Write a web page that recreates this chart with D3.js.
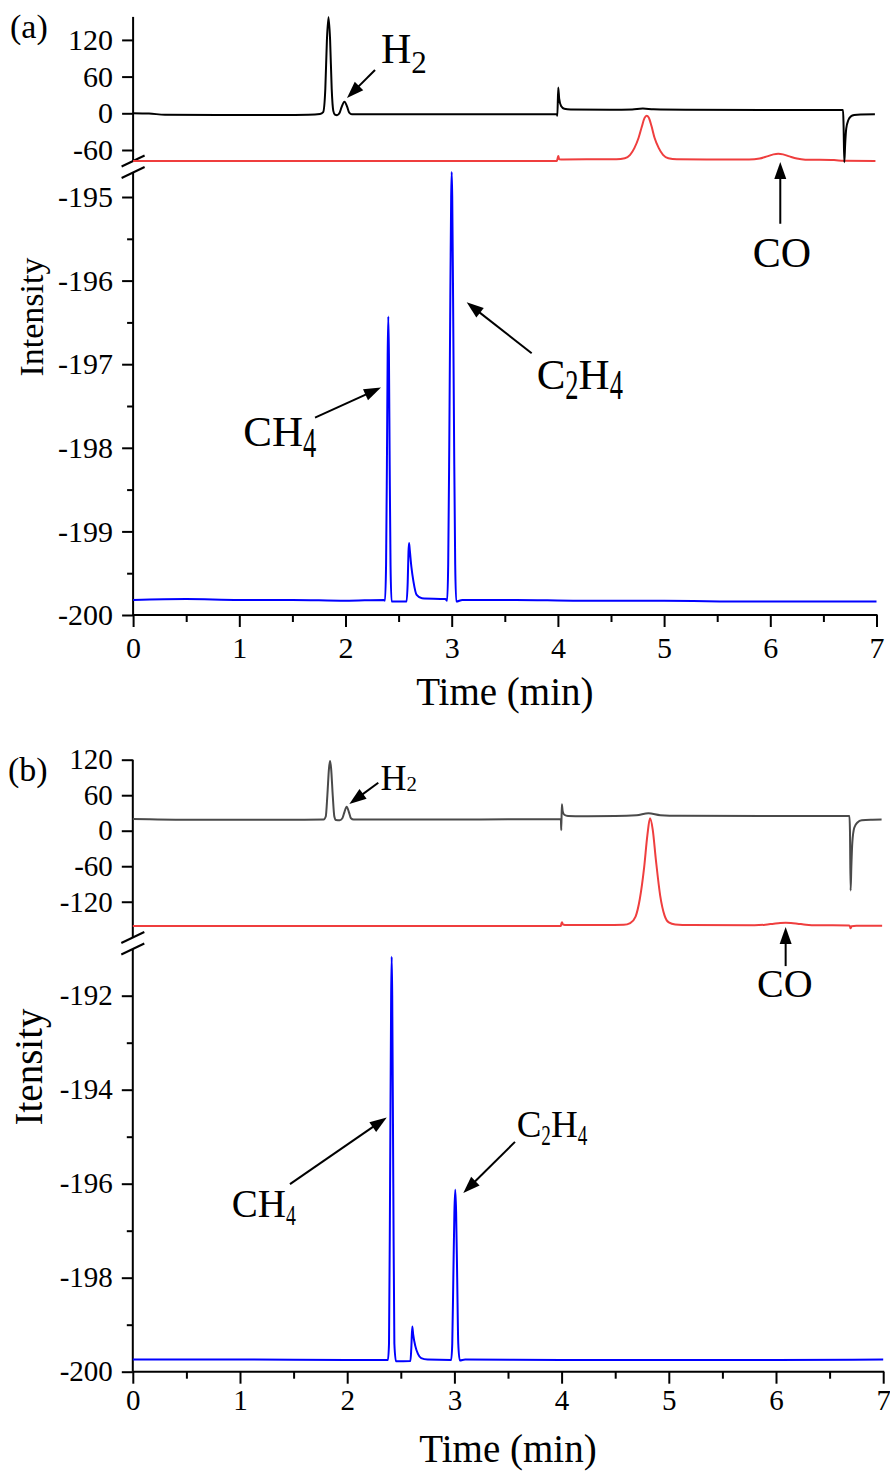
<!DOCTYPE html>
<html>
<head>
<meta charset="utf-8">
<script src="https://cdn.jsdelivr.net/npm/d3@7"></script>
<style>
  body { margin: 0; background: #fff; }
  text { font-family: "Liberation Serif", "Times New Roman", serif; fill: #000; }
</style>
</head>
<body>
<div id="canvas"></div>
<script>
"use strict"

// shared time axis
let timeTicks = [0, 1, 2, 3, 4, 5, 6, 7];
let timeMinor = [0.5, 1.5, 2.5, 3.5, 4.5, 5.5, 6.5];

// ---------- panel (a) : [time (min), intensity] ----------
let aTopTicks = [-60, 0, 60, 120];
let aLowTicks = [-200, -199, -198, -197, -196, -195];
let aLowMinor = [-199.5, -198.5, -197.5, -196.5, -195.5];

let aBlack = [[0, 0], [0.15, -0.5], [0.3, -2.3], [0.8, -2.7], [1.4, -2.8], [1.65, -2.2], [1.76, -1], [1.79, 2],
    [1.81, 40], [1.825, 120], [1.84, 157], [1.855, 120], [1.87, 40], [1.885, 4], [1.9, -2], [1.92, -3],
    [1.945, 1], [1.965, 11], [1.99, 19], [2.015, 11], [2.035, 1], [2.06, -1.5], [2.5, -1.6], [3, -1.6],
    [3.5, -1.6], [3.99, -1.6], [3.995, -4], [4.003, 42], [4.012, 24], [4.03, 12], [4.06, 7.5], [4.12, 6.2],
    [4.5, 5.6], [4.7, 6.3], [4.8, 7.8], [4.9, 6.5], [5.2, 5.8], [6, 5.5], [6.685, 5.5], [6.69, -20],
    [6.697, -80], [6.705, -50], [6.715, -25], [6.735, -11], [6.76, -5], [6.79, -2.8], [6.85, -1.8], [6.985, -1.5]];

let aRed = [[0, -77.8], [1, -77.8], [2, -77.8], [3, -77.8], [3.99, -77.8], [3.997, -74], [4.004, -70],
    [4.012, -75], [4.05, -75.5], [4.3, -75.3], [4.55, -75], [4.63, -73.5], [4.68, -68], [4.72, -57],
    [4.76, -40], [4.79, -22], [4.815, -8], [4.836, -3.9], [4.855, -7], [4.88, -20], [4.91, -40], [4.95, -57],
    [4.99, -68], [5.04, -73.5], [5.12, -75.3], [5.4, -75.6], [5.8, -75.6], [5.9, -74], [5.97, -70.5],
    [6.03, -67.2], [6.075, -66.3], [6.12, -67.2], [6.18, -70.5], [6.25, -74], [6.33, -75.8], [6.6, -76.5],
    [6.69, -77.5], [6.99, -77.8]];

let aBlue = [[0, -199.82], [0.5, -199.81], [1, -199.82], [1.5, -199.82], [2, -199.83], [2.36, -199.82],
    [2.372, -199.83], [2.382, -199.4], [2.39, -198.2], [2.397, -196.9], [2.403, -196.43], [2.409, -196.9],
    [2.416, -198.2], [2.424, -199.4], [2.434, -199.84], [2.45, -199.84], [2.575, -199.84], [2.586, -199.6],
    [2.593, -199.25], [2.598, -199.14], [2.605, -199.22], [2.62, -199.42], [2.64, -199.6], [2.67, -199.76],
    [2.72, -199.8], [2.94, -199.81], [2.957, -199.83], [2.967, -199.4], [2.977, -198], [2.987, -196.2],
    [2.995, -195], [3, -194.7], [3.005, -195], [3.013, -196.2], [3.023, -198], [3.033, -199.4],
    [3.043, -199.84], [3.1, -199.82], [3.6, -199.82], [4.2, -199.83], [5, -199.83], [5.8, -199.84],
    [6.5, -199.84], [7, -199.84]];

// labels: text position, arrow tail and tip, in data units of the given part
let aNotes = [
    { label: "H2", part: "top", at: [2.334, 82.2], tail: [2.278, 70.8], tip: [2.014, 25] },
    { label: "CO", part: "low", at: [5.834, -195.84], tail: [6.094, -195.32], tip: [6.094, -194.58] },
    { label: "CH4", part: "low", at: [1.038, -197.98], tail: [1.713, -197.64], tip: [2.334, -197.28] },
    { label: "C2H4", part: "low", at: [3.8, -197.3], tail: [3.753, -196.87], tip: [3.141, -196.26] }
];

// ---------- panel (b) ----------
let bTopTicks = [-120, -60, 0, 60, 120];
let bLowTicks = [-200, -198, -196, -194, -192];
let bLowMinor = [-199, -197, -195, -193];

let bBlack = [[0, 19.8], [0.15, 19.2], [0.4, 18.6], [1, 18.5], [1.6, 18.7], [1.78, 19], [1.8, 24],
    [1.815, 60], [1.83, 105], [1.84, 118], [1.85, 105], [1.865, 60], [1.88, 24], [1.895, 18], [1.93, 17.6],
    [1.955, 21], [1.975, 32], [1.995, 40.6], [2.015, 32], [2.035, 21], [2.06, 18.8], [2.5, 19], [3, 19],
    [3.5, 19.2], [3.993, 19.3], [3.997, 1], [4.002, 44.6], [4.01, 33], [4.025, 27], [4.06, 25], [4.2, 24.6],
    [4.5, 24.8], [4.7, 26], [4.81, 29.4], [4.92, 26.3], [5.1, 25.2], [6, 25], [6.685, 25], [6.69, 0],
    [6.696, -101], [6.703, -60], [6.712, -20], [6.73, 5], [6.76, 14], [6.8, 17.5], [6.9, 18.5], [6.985, 18.8]];

let bRed = [[0, -161], [1, -161], [2, -161], [3, -161], [3.993, -161], [3.998, -157], [4.004, -154.5],
    [4.012, -158.5], [4.05, -159.5], [4.4, -159.5], [4.58, -159], [4.64, -156], [4.69, -145], [4.73, -115],
    [4.77, -62], [4.8, -8], [4.825, 21], [4.85, 2], [4.88, -50], [4.92, -110], [4.96, -143], [5, -155],
    [5.06, -158.5], [5.2, -159.5], [5.8, -159.8], [5.9, -158.8], [5.98, -157], [6.04, -155.8], [6.09, -155.3],
    [6.14, -155.8], [6.2, -157], [6.28, -158.8], [6.38, -159.8], [6.68, -160], [6.69, -161.5], [6.695, -165],
    [6.705, -161.5], [6.75, -160.5], [6.99, -160.5]];

let bBlue = [[0, -199.74], [1, -199.74], [2, -199.75], [2.38, -199.75], [2.39, -199.4], [2.4, -196],
    [2.41, -192], [2.415, -191.17], [2.42, -192], [2.43, -196], [2.44, -199.4], [2.455, -199.78],
    [2.59, -199.77], [2.598, -199.5], [2.607, -199.04], [2.615, -199.2], [2.635, -199.45], [2.66, -199.62],
    [2.69, -199.71], [2.75, -199.74], [2.97, -199.75], [2.98, -199.4], [2.99, -198], [3, -196.6],
    [3.008, -196.13], [3.016, -196.6], [3.026, -198], [3.036, -199.4], [3.05, -199.76], [3.1, -199.74],
    [4, -199.75], [5, -199.75], [6, -199.75], [7, -199.74]];

let bNotes = [
    { label: "H2", part: "top", at: [2.31, 68.8], tail: [2.29, 81.1], tip: [2.02, 45.1] },
    { label: "CO", part: "low", at: [5.823, -192.03], tail: [6.09, -191.37], tip: [6.09, -190.54] },
    { label: "CH4", part: "low", at: [0.923, -196.7], tail: [1.466, -196.01], tip: [2.369, -194.59] },
    { label: "C2H4", part: "low", at: [3.581, -195.0], tail: [3.565, -195.11], tip: [3.083, -196.2] }
];

let drawing = d3.select("#canvas")
    .append("svg")
    .attr("width", 890)
    .attr("height", 1474);

// layout of each panel (pixels)
let panelA = {
    name: "(a)", nameX: 10, nameY: 38, nameSize: 34,
    x0: 133.1, x1: 876.5,
    topDomain: [-78, 157.6], topRange: [161, 16.9], topTicks: aTopTicks,
    lowDomain: [-200, -194.72], lowRange: [615, 173.6], lowTicks: aLowTicks, lowMinor: aLowMinor,
    breaks: [161, 172.5],
    tickSize: 30, xPad: 10,
    yTitle: "Intensity", yTitleSize: 34, yTitleX: 43, yTitleY: 317,
    xTitleY: 705, xTitleSize: 39,
    black: aBlack, blackColor: "#000", red: aRed, blue: aBlue, notes: aNotes,
    noteStyle: {
        H2: { size: 42, subSize: 31, subSx: 1, subDy: 10 },
        CO: { size: 42 },
        CH4: { size: 43, subSize: 42, subSx: 0.63, subDy: 11 },
        C2H4: { size: 43, subSize: 42, subSx: 0.63, subDy: 10 }
    }
};

let panelB = {
    name: "(b)", nameX: 8, nameY: 781, nameSize: 34,
    x0: 132.8, x1: 883.2,
    topDomain: [-161, 120], topRange: [926, 759.7], topTicks: bTopTicks,
    lowDomain: [-200, -191.1], lowRange: [1371.7, 953.4], lowTicks: bLowTicks, lowMinor: bLowMinor,
    breaks: [937.5, 949],
    tickSize: 29, xPad: 6,
    yTitle: "Itensity", yTitleSize: 39, yTitleX: 42, yTitleY: 1067,
    xTitleY: 1462, xTitleSize: 39,
    black: bBlack, blackColor: "#4a4a4a", red: bRed, blue: bBlue, notes: bNotes,
    noteStyle: {
        H2: { size: 36, subSize: 22, subSx: 0.95, subDy: 1 },
        CO: { size: 40 },
        CH4: { size: 39, subSize: 30, subSx: 0.66, subDy: 8 },
        C2H4: { size: 37, subSize: 29, subSx: 0.66, subDy: 8.5 }
    }
};

drawPanel(panelA);
drawPanel(panelB);


function drawPanel(p) {
    let g = drawing.append("g");

    let x = d3.scaleLinear().domain([0, 7]).range([p.x0, p.x1]);
    let yTop = d3.scaleLinear().domain(p.topDomain).range(p.topRange);
    let yLow = d3.scaleLinear().domain(p.lowDomain).range(p.lowRange);

    // y axis, upper part
    let topAxis = g.append("g")
        .attr("transform", "translate(" + p.x0 + ",0)")
        .call(d3.axisLeft(yTop).tickValues(p.topTicks).tickSize(11).tickPadding(9)
            .tickFormat(d => String(d)));
    styleAxis(topAxis, p.tickSize);

    // y axis, lower part
    let lowAxis = g.append("g")
        .attr("transform", "translate(" + p.x0 + ",0)")
        .call(d3.axisLeft(yLow).tickValues(p.lowTicks).tickSize(11).tickPadding(9)
            .tickFormat(d => String(d)));
    styleAxis(lowAxis, p.tickSize);

    let lowMinor = g.append("g")
        .attr("transform", "translate(" + p.x0 + ",0)")
        .call(d3.axisLeft(yLow).tickValues(p.lowMinor).tickSize(6).tickFormat(""));
    styleAxis(lowMinor, p.tickSize);

    // axis lines, interrupted at the break
    g.append("line")
        .attr("x1", p.x0).attr("x2", p.x0)
        .attr("y1", p.topRange[1]).attr("y2", p.breaks[0])
        .attr("stroke", "black").attr("stroke-width", 2);
    g.append("line")
        .attr("x1", p.x0).attr("x2", p.x0)
        .attr("y1", p.breaks[1]).attr("y2", p.lowRange[0])
        .attr("stroke", "black").attr("stroke-width", 2);

    // break marks  //
    p.breaks.forEach(b => {
        g.append("line")
            .attr("x1", p.x0 - 11.5).attr("y1", b + 5.5)
            .attr("x2", p.x0 + 11.5).attr("y2", b - 5.5)
            .attr("stroke", "black").attr("stroke-width", 2);
    });

    // x axis
    let xAxis = g.append("g")
        .attr("transform", "translate(0," + p.lowRange[0] + ")")
        .call(d3.axisBottom(x).tickValues(timeTicks).tickSize(12).tickSizeOuter(0)
            .tickPadding(p.xPad).tickFormat(d => String(d)));
    styleAxis(xAxis, p.tickSize);
    g.append("line")
        .attr("x1", p.x0).attr("x2", p.x1 + 1)
        .attr("y1", p.lowRange[0]).attr("y2", p.lowRange[0])
        .attr("stroke", "black").attr("stroke-width", 2);

    let xMinor = g.append("g")
        .attr("transform", "translate(0," + p.lowRange[0] + ")")
        .call(d3.axisBottom(x).tickValues(timeMinor).tickSize(7).tickFormat(""));
    styleAxis(xMinor, p.tickSize);

    // titles
    g.append("text")
        .attr("x", (p.x0 + p.x1) / 2)
        .attr("y", p.xTitleY)
        .attr("text-anchor", "middle")
        .attr("font-size", p.xTitleSize)
        .text("Time (min)");

    g.append("text")
        .attr("transform", "translate(" + p.yTitleX + "," + p.yTitleY + ") rotate(-90)")
        .attr("text-anchor", "middle")
        .attr("font-size", p.yTitleSize)
        .text(p.yTitle);

    g.append("text")
        .attr("x", p.nameX)
        .attr("y", p.nameY)
        .attr("font-size", p.nameSize)
        .text(p.name);

    // traces
    let topLine = d3.line().x(d => x(d[0])).y(d => yTop(d[1])).curve(d3.curveMonotoneX);
    let lowLine = d3.line().x(d => x(d[0])).y(d => yLow(d[1])).curve(d3.curveMonotoneX);

    g.append("path")
        .datum(p.red)
        .attr("d", topLine)
        .attr("fill", "none")
        .attr("stroke", "#ef3e3e")
        .attr("stroke-width", 2)
        .attr("stroke-linejoin", "round");

    g.append("path")
        .datum(p.black)
        .attr("d", topLine)
        .attr("fill", "none")
        .attr("stroke", p.blackColor)
        .attr("stroke-width", 2)
        .attr("stroke-linejoin", "round");

    g.append("path")
        .datum(p.blue)
        .attr("d", lowLine)
        .attr("fill", "none")
        .attr("stroke", "#0000ff")
        .attr("stroke-width", 2)
        .attr("stroke-linejoin", "round");

    // labels with arrows
    p.notes.forEach(n => {
        let y = n.part == "top" ? yTop : yLow;
        arrow(g, x(n.tail[0]), y(n.tail[1]), x(n.tip[0]), y(n.tip[1]));
        chemLabel(g, x(n.at[0]), y(n.at[1]), n.label, p.noteStyle[n.label]);
    });
}


function styleAxis(a, size) {
    a.attr("font-size", size).attr("font-family", null);
    a.select(".domain").remove();
    a.selectAll("line").attr("stroke", "black").attr("stroke-width", 2);
    a.selectAll("text").attr("fill", "black");
}


function arrow(g, x1, y1, x2, y2) {
    let len = 17, half = 6;
    let ang = Math.atan2(y2 - y1, x2 - x1);
    let c = Math.cos(ang), s = Math.sin(ang);
    let bx = x2 - len * c, by = y2 - len * s; // base of the head

    g.append("line")
        .attr("x1", x1).attr("y1", y1)
        .attr("x2", bx + 2 * c).attr("y2", by + 2 * s)
        .attr("stroke", "black")
        .attr("stroke-width", 2);

    g.append("polygon")
        .attr("points", [
            [x2, y2],
            [bx - half * s, by + half * c],
            [bx + half * s, by - half * c]
        ].map(q => q.join(",")).join(" "))
        .attr("fill", "black");
}


// formula such as C2H4: digits drawn as narrow subscripts
function chemLabel(g, px, py, label, st) {
    let grp = g.append("g").attr("transform", "translate(" + px + "," + py + ")");
    let cx = 0;
    label.match(/[A-Za-z]+|\d+/g).forEach(tok => {
        let isSub = /\d/.test(tok);
        let t = grp.append("text")
            .text(tok)
            .attr("font-size", isSub ? st.subSize : st.size)
            .attr("transform", isSub
                ? "translate(" + cx + "," + st.subDy + ") scale(" + st.subSx + ",1)"
                : "translate(" + cx + ",0)");
        cx += t.node().getComputedTextLength() * (isSub ? st.subSx : 1);
    });
}
</script>
</body>
</html>
